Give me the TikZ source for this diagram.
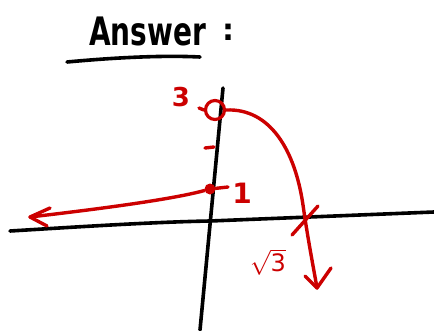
\documentclass[tikz,border=0pt]{standalone}
\usepackage{fontspec}
\setsansfont{DejaVu Sans}
\definecolor{pen}{RGB}{204,0,0}
\tikzset{
  axisline/.style={line width=3.6pt, black, line cap=round},
  redline/.style={line width=3.4pt, pen, line cap=round, line join=round},
  redlabel/.style={text=pen, font=\sffamily\bfseries\fontsize{26}{28}\selectfont, inner sep=0pt},
}
\begin{document}
\begin{tikzpicture}[x=1pt,y=-1pt]
\useasboundingbox[fill=white] (0,0) rectangle (434,330);
% title
\node[font=\sffamily\bfseries\fontsize{28}{30}\selectfont, inner sep=0pt, anchor=base west] (title) at (89,45) {\scalebox{1}[1.4]{Answer}};
\node[font=\sffamily\bfseries\fontsize{30}{34}\selectfont, inner sep=0pt] (colon) at (228,32) {:};
\coordinate (ul1) at (67,62);
\coordinate (ul2) at (200,57);
\draw[axisline] (ul1) .. controls (110,58) and (160,55) .. (ul2);
% axes
\coordinate (xl) at (10,231);
\coordinate (xr) at (434,212);
\draw[axisline] (xl) .. controls (60,228) and (150,222) .. (210,221) -- (xr);
\coordinate (yt) at (223,88);
\coordinate (yb) at (200,330);
\draw[axisline] (yt) -- (yb);
% red marks
\node[draw=pen, line width=3.2pt, circle, minimum size=19pt, inner sep=0pt] (c3) at (215,110) {};
\coordinate (t3) at (199,108);
\draw[redline] (t3) -- (c3.west);
\node[redlabel] (l3) at (181,97) {3};
\coordinate (m1) at (205,148);
\coordinate (m2) at (214,147);
\draw[redline] (m1) -- (m2);
\node[circle, fill=pen, minimum size=11pt, inner sep=0pt] (p1) at (210,189) {};
\coordinate (t1) at (228,187);
\draw[redline] (p1) -- (t1);
\node[redlabel, font=\sffamily\bfseries\fontsize{28}{30}\selectfont] (l1) at (242,193) {1};
% left branch
\coordinate (la) at (30,217);
\draw[redline] (p1) .. controls (170,200) and (90,210) .. (la);
\coordinate (la1) at (50,208);
\coordinate (la2) at (47,226);
\draw[redline] (la1) -- (la) -- (la2);
% right branch
\coordinate (ra) at (317,288);
\draw[redline] (c3.east) .. controls (270,108) and (295,150) .. (303,205) .. controls (308,240) and (313,265) .. (ra);
\coordinate (ra1) at (305,276);
\coordinate (ra2) at (331,268);
\draw[redline] (ra1) -- (ra) -- (ra2);
% x-intercept tick
\coordinate (x1) at (292,235);
\coordinate (x2) at (318,206);
\draw[redline] (x1) -- (x2);
\node[redlabel, font=\sffamily\bfseries\fontsize{24}{26}\selectfont] (s3) at (268,262) {$\sqrt{\mathbf{\mathsf{3}}}$};
\end{tikzpicture}
\end{document}
